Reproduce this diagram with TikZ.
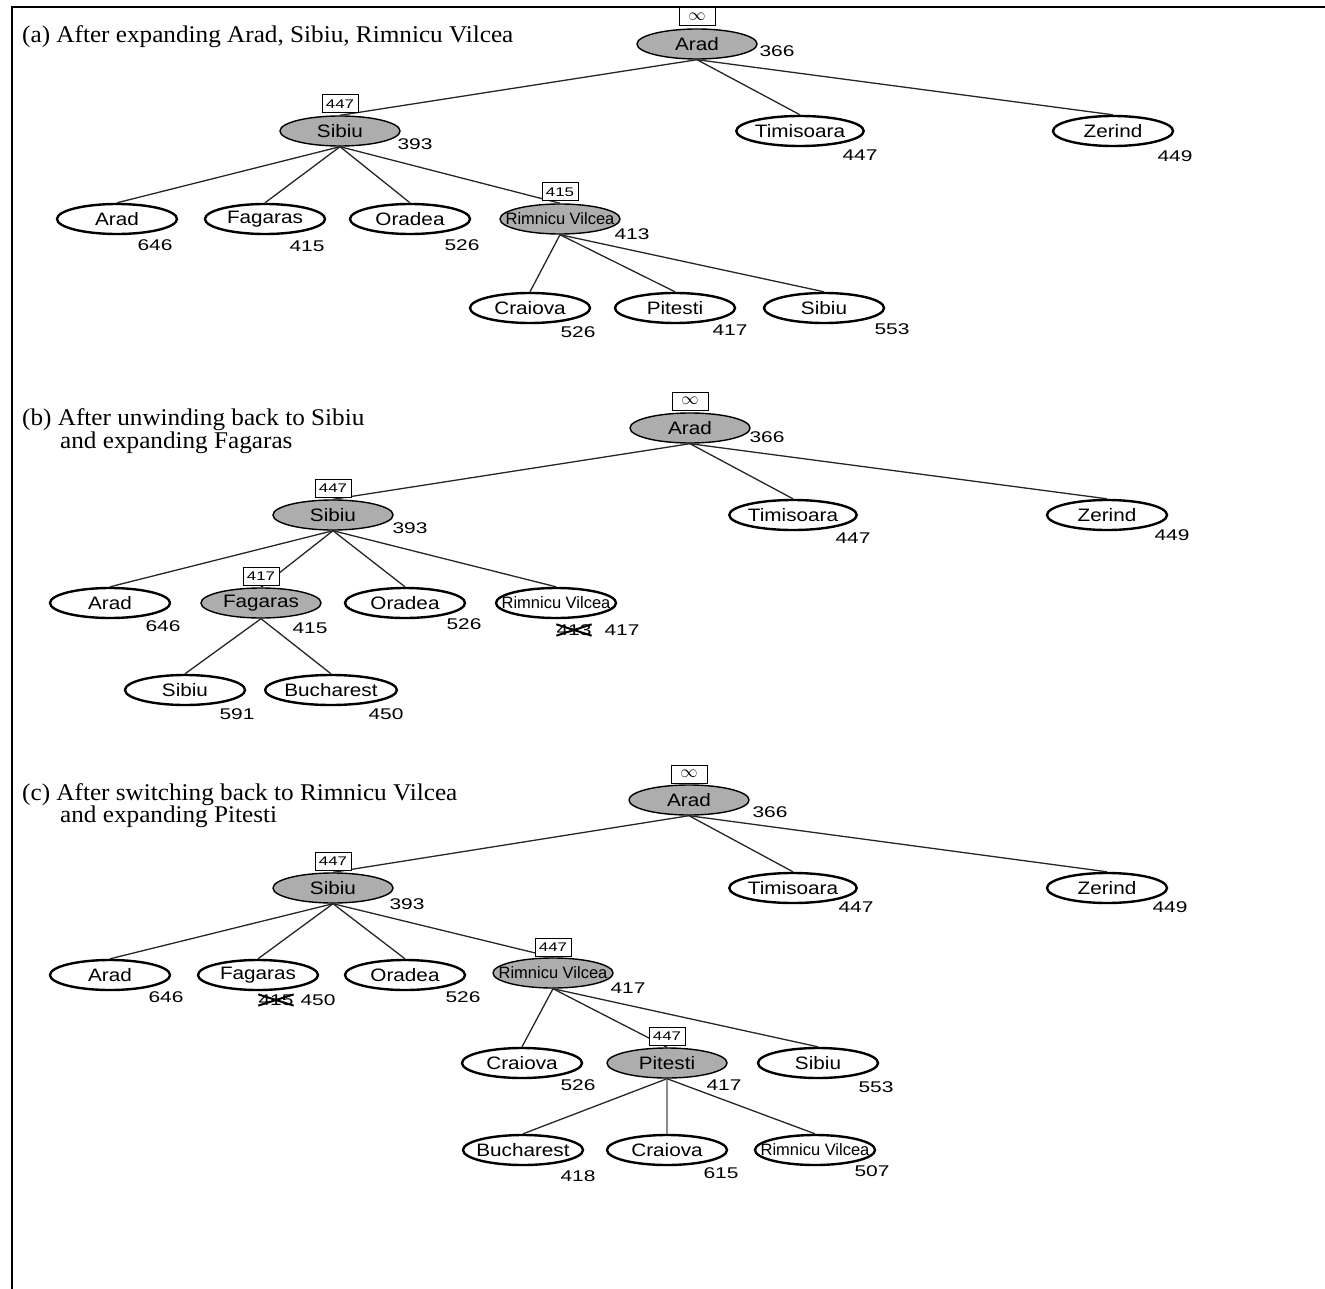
\documentclass[tikz,border=0pt]{standalone}
\usepackage{fontspec}
\setmainfont{Liberation Serif}[FakeStretch=1.05]
\newfontfamily\cityfont[FakeStretch=1.15]{Liberation Sans}
\newfontfamily\narrowfont{Liberation Sans}
\newfontfamily\valfont[FakeStretch=1.35]{Liberation Sans}
\newcommand{\squeeze}[1]{\makebox[72pt]{#1}}
\usetikzlibrary{shapes}
\tikzstyle{city} = [draw, ellipse, line width=2.4pt, inner sep=0pt,
    minimum height=30pt, minimum width=120pt, font=\cityfont\fontsize{18}{18}\selectfont]
\tikzstyle{done} = [city, fill=black!32, line width=1.4pt]
\tikzstyle{narrow} = [font=\narrowfont\fontsize{16.5}{16.5}\selectfont]
\tikzstyle{fbox} = [draw, fill=white, line width=1pt, inner sep=0pt,
    minimum height=18pt, minimum width=36pt, font=\valfont\fontsize{12.5}{12.5}\selectfont]
\tikzstyle{fval} = [inner sep=0pt, font=\valfont\fontsize{15.5}{15.5}\selectfont]
\tikzstyle{edge} = [line width=1.3pt, black!85]
\tikzstyle{title} = [anchor=west, inner sep=0pt, font=\fontsize{24}{26}\selectfont]

\begin{document}
\begin{tikzpicture}[x=1pt, y=-1pt]
\useasboundingbox (0,0) rectangle (1325,1289);
\coordinate (TL) at (12,7);
\coordinate (TR) at (1325,7);
\coordinate (BL) at (12,1289);
\draw[line width=2pt] (BL) -- (TL) -- (TR);

% (a)
\node[title] (A-title) at (22,37) {(a) After expanding Arad, Sibiu, Rimnicu Vilcea};
\node[done] (A-arad) at (697,44) {Arad};
\node[done] (A-sib) at (340,131) {Sibiu};
\node[city] (A-tim) at (800,131) {Timisoara};
\node[city] (A-zer) at (1113,131) {Zerind};
\node[city] (A-arad2) at (117,219) {Arad};
\node[city] (A-fag) at (265,219) {Fagaras};
\node[city] (A-ora) at (410,219) {Oradea};
\node[done, narrow] (A-rv) at (560,219) {\squeeze{Rimnicu Vilcea}};
\node[city] (A-cra) at (530,308) {Craiova};
\node[city] (A-pit) at (675,308) {Pitesti};
\node[city] (A-sib2) at (824,308) {Sibiu};
\draw[edge] (A-arad.south) -- (A-sib.north);
\draw[edge] (A-arad.south) -- (A-tim.north);
\draw[edge] (A-arad.south) -- (A-zer.north);
\draw[edge] (A-sib.south) -- (A-arad2.north);
\draw[edge] (A-sib.south) -- (A-fag.north);
\draw[edge] (A-sib.south) -- (A-ora.north);
\draw[edge] (A-sib.south) -- (A-rv.north);
\draw[edge] (A-rv.south) -- (A-cra.north);
\draw[edge] (A-rv.south) -- (A-pit.north);
\draw[edge] (A-rv.south) -- (A-sib2.north);
\node[fbox] (A-b1) at (697,17) {\fontsize{17}{17}\selectfont$\infty$};
\node[fbox] (A-b2) at (340,104) {447};
\node[fbox] (A-b3) at (560,192) {415};
\node[fval] (A-f1) at (777,51) {366};
\node[fval] (A-f2) at (415,144) {393};
\node[fval] (A-f3) at (860,155) {447};
\node[fval] (A-f4) at (1175,156) {449};
\node[fval] (A-f5) at (155,245) {646};
\node[fval] (A-f6) at (307,246) {415};
\node[fval] (A-f7) at (462,245) {526};
\node[fval] (A-f8) at (632,234) {413};
\node[fval] (A-f9) at (578,332) {526};
\node[fval] (A-f10) at (730,330) {417};
\node[fval] (A-f11) at (892,329) {553};

% (b)
\node[title] (B-title) at (22,420) {(b) After unwinding back to Sibiu};
\node[title] (B-title2) at (60,443) {and expanding Fagaras};
\node[done] (B-arad) at (690,428) {Arad};
\node[done] (B-sib) at (333,515) {Sibiu};
\node[city] (B-tim) at (793,515) {Timisoara};
\node[city] (B-zer) at (1107,515) {Zerind};
\node[city] (B-arad2) at (110,603) {Arad};
\node[done] (B-fag) at (261,603) {Fagaras};
\node[city] (B-ora) at (405,603) {Oradea};
\node[city, narrow] (B-rv) at (556,603) {\squeeze{Rimnicu Vilcea}};
\node[city] (B-sib2) at (185,690) {Sibiu};
\node[city] (B-buc) at (331,690) {Bucharest};
\draw[edge] (B-arad.south) -- (B-sib.north);
\draw[edge] (B-arad.south) -- (B-tim.north);
\draw[edge] (B-arad.south) -- (B-zer.north);
\draw[edge] (B-sib.south) -- (B-arad2.north);
\draw[edge] (B-sib.south) -- (B-fag.north);
\draw[edge] (B-sib.south) -- (B-ora.north);
\draw[edge] (B-sib.south) -- (B-rv.north);
\draw[edge] (B-fag.south) -- (B-sib2.north);
\draw[edge] (B-fag.south) -- (B-buc.north);
\node[fbox] (B-b1) at (690,401) {\fontsize{17}{17}\selectfont$\infty$};
\node[fbox] (B-b2) at (333,488) {447};
\node[fbox] (B-b3) at (261,576) {417};
\node[fval] (B-f1) at (767,437) {366};
\node[fval] (B-f2) at (410,528) {393};
\node[fval] (B-f3) at (853,538) {447};
\node[fval] (B-f4) at (1172,535) {449};
\node[fval] (B-f5) at (163,626) {646};
\node[fval] (B-f6) at (310,628) {415};
\node[fval] (B-f7) at (464,624) {526};
\node[fval] (B-old) at (574,630) {413};
\draw[line width=2pt] (B-old.north west) -- (B-old.south east)
    (B-old.south west) -- (B-old.north east);
\node[fval] (B-f8) at (622,630) {417};
\node[fval] (B-f9) at (237,714) {591};
\node[fval] (B-f10) at (386,714) {450};

% (c)
\node[title] (C-title) at (22,795) {(c) After switching back to Rimnicu Vilcea};
\node[title] (C-title2) at (60,817) {and expanding Pitesti};
\node[done] (C-arad) at (689,800) {Arad};
\node[done] (C-sib) at (333,888) {Sibiu};
\node[city] (C-tim) at (793,888) {Timisoara};
\node[city] (C-zer) at (1107,888) {Zerind};
\node[city] (C-arad2) at (110,975) {Arad};
\node[city] (C-fag) at (258,975) {Fagaras};
\node[city] (C-ora) at (405,975) {Oradea};
\node[done, narrow] (C-rv) at (553,973) {\squeeze{Rimnicu Vilcea}};
\node[city] (C-cra) at (522,1063) {Craiova};
\node[done] (C-pit) at (667,1063) {Pitesti};
\node[city] (C-sib2) at (818,1063) {Sibiu};
\node[city] (C-buc) at (523,1150) {\squeeze{Bucharest}};
\node[city] (C-cra2) at (667,1150) {Craiova};
\node[city, narrow] (C-rv2) at (815,1150) {\squeeze{Rimnicu Vilcea}};
\draw[edge] (C-arad.south) -- (C-sib.north);
\draw[edge] (C-arad.south) -- (C-tim.north);
\draw[edge] (C-arad.south) -- (C-zer.north);
\draw[edge] (C-sib.south) -- (C-arad2.north);
\draw[edge] (C-sib.south) -- (C-fag.north);
\draw[edge] (C-sib.south) -- (C-ora.north);
\draw[edge] (C-sib.south) -- (C-rv.north);
\draw[edge] (C-rv.south) -- (C-cra.north);
\draw[edge] (C-rv.south) -- (C-pit.north);
\draw[edge] (C-rv.south) -- (C-sib2.north);
\draw[edge] (C-pit.south) -- (C-buc.north);
\draw[edge, black!45] (C-pit.south) -- (C-cra2.north);
\draw[edge] (C-pit.south) -- (C-rv2.north);
\node[fbox] (C-b1) at (689,774) {\fontsize{17}{17}\selectfont$\infty$};
\node[fbox] (C-b2) at (333,861) {447};
\node[fbox] (C-b3) at (553,947) {447};
\node[fbox] (C-b4) at (667,1036) {447};
\node[fval] (C-f1) at (770,812) {366};
\node[fval] (C-f2) at (407,904) {393};
\node[fval] (C-f3) at (856,907) {447};
\node[fval] (C-f4) at (1170,907) {449};
\node[fval] (C-f5) at (166,997) {646};
\node[fval] (C-old) at (276,1000) {415};
\draw[line width=2pt] (C-old.north west) -- (C-old.south east)
    (C-old.south west) -- (C-old.north east);
\node[fval] (C-f6) at (318,1000) {450};
\node[fval] (C-f7) at (463,997) {526};
\node[fval] (C-f8) at (628,988) {417};
\node[fval] (C-f9) at (578,1085) {526};
\node[fval] (C-f10) at (724,1085) {417};
\node[fval] (C-f11) at (876,1087) {553};
\node[fval] (C-f12) at (578,1176) {418};
\node[fval] (C-f13) at (721,1173) {615};
\node[fval] (C-f14) at (872,1171) {507};
\end{tikzpicture}
\end{document}
